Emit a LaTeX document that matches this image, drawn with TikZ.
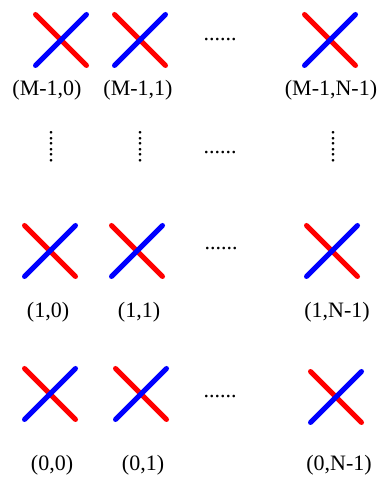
\documentclass[tikz,border=0pt]{standalone}
\usepackage{fontspec}
\setmainfont{Liberation Serif}
\usetikzlibrary{positioning}
\tikzset{
  redbar/.style={draw=red, line width=5pt, line cap=round},
  bluebar/.style={draw=blue, line width=5pt, line cap=round},
  idx/.style={font=\fontsize{22}{26}\selectfont, inner sep=0pt},
  hdots/.style={font=\fontsize{22}{26}\selectfont, inner sep=0pt, anchor=base},
  vdots/.style={hdots, rotate=90}
}
\begin{document}
\begin{tikzpicture}[x=1pt,y=1pt]
  \useasboundingbox (0,0) rectangle (382,479);

  \foreach \nm/\cx/\cy in {q20/61/439, q21/140/439, q2n/330/439,
                           q10/50/228, q11/137/228, q1n/332/228,
                           q00/50/85, q01/141/85, q0n/336/82} {
    \coordinate (\nm) at (\cx,\cy);
    \draw[redbar] (\nm) ++(-25.5,25.5) -- ++(51,-51);
    \draw[bluebar] (\nm) ++(-25.5,-25.5) -- ++(51,51);
  }

  \node[idx] (l20) at (47,389) {(M-1,0)};
  \node[idx] (l21) at (138,389) {(M-1,1)};
  \node[idx] (l2n) at (331,389) {(M-1,N-1)};
  \node[idx] (l10) at (48,167) {(1,0)};
  \node[idx] (l11) at (139,167) {(1,1)};
  \node[idx] (l1n) at (337,167) {(1,N-1)};
  \node[idx] (l00) at (52,14) {(0,0)};
  \node[idx] (l01) at (143,14) {(0,1)};
  \node[idx] (l0n) at (339,14) {(0,N-1)};

  \node[hdots] (d2) at (220,438) {......};
  \node[hdots] (dm) at (220,325) {......};
  \node[hdots] (d1) at (221,229) {......};
  \node[hdots] (d0) at (220,81) {......};
  \node[vdots] (v0) at (52,332) {......};
  \node[vdots] (v1) at (141,332) {......};
  \node[vdots] (vn) at (334,332) {......};
\end{tikzpicture}
\end{document}
